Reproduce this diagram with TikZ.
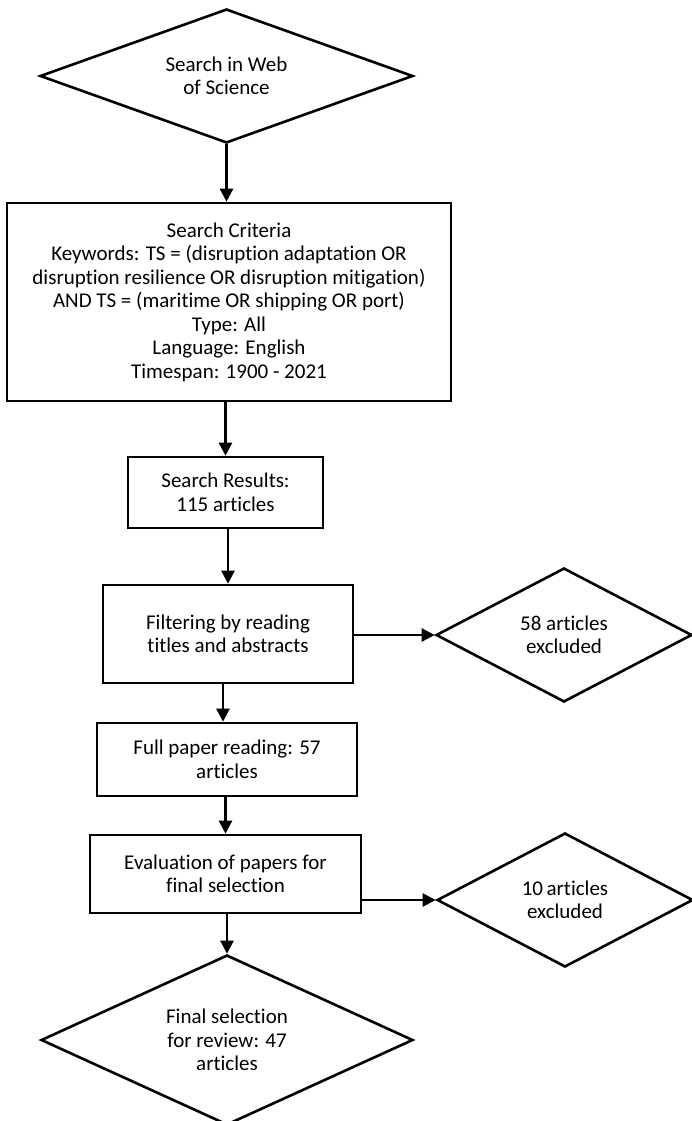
\documentclass[tikz,border=0pt]{standalone}
\usepackage{fontspec}
\setmainfont{Carlito}[Ligatures=NoCommon]
\usetikzlibrary{shapes.geometric,arrows.meta}
\begin{document}
\begin{tikzpicture}[x=1pt,y=-1pt,
  every node/.style={font=\fontsize{21}{23.5}\selectfont, align=center, inner sep=0pt},
  boxnode/.style={draw, line width=2.6pt, rectangle},
  dianode/.style={draw, line width=2.6pt, diamond},
  arr/.style={line width=2.4pt, -{Triangle[length=13pt,width=13pt]}}]
\useasboundingbox (0,0) rectangle (692,1121);
\node[dianode, minimum width=373pt, minimum height=134pt,
  label={center:{Search in Web\\of Science}}] (web) at (226.5,76) {};
\node[boxnode, minimum width=444pt, minimum height=198pt] (crit) at (229,302) {Search Criteria\\Keywords: TS = (disruption adaptation OR\\disruption resilience OR disruption mitigation)\\AND TS = (maritime OR shipping OR port)\\Type: All\\Language: English\\Timespan: 1900 - 2021};
\node[boxnode, minimum width=195pt, minimum height=71pt] (res) at (225.5,492.5) {Search Results:\\115 articles};
\node[boxnode, minimum width=250pt, minimum height=98pt] (filt) at (228,634) {Filtering by reading\\titles and abstracts};
\node[dianode, minimum width=256pt, minimum height=134pt,
  label={center:{58 articles\\excluded}}] (ex1) at (564,635) {};
\node[boxnode, minimum width=260pt, minimum height=73pt] (full) at (227,759.5) {Full paper reading: 57\\articles};
\node[boxnode, minimum width=271pt, minimum height=78pt] (eval) at (225.5,874) {Evaluation of papers for\\final selection};
\node[dianode, minimum width=256pt, minimum height=134pt,
  label={center:{10\,articles\\excluded}}] (ex2) at (565,900) {};
\node[dianode, minimum width=372pt, minimum height=170pt,
  label={center:{Final selection\\for review: 47\\articles}}] (fin) at (227,1040) {};
\draw[arr] (web.south) -- (web.south |- crit.north);
\draw[arr] (crit.south -| res.center) -- (res.north);
\draw[arr] (res.south -| filt.center) -- (filt.north);
\draw[arr] (filt.south -| 223,0) -- (full.north -| 223,0);
\draw[arr] (full.south -| eval.center) -- (eval.north);
\draw[arr] (eval.south -| fin.center) -- (fin.north);
\draw[arr] (filt.east |- ex1.west) -- (ex1.west);
\draw[arr] (eval.east |- ex2.west) -- (ex2.west);
\end{tikzpicture}
\end{document}
